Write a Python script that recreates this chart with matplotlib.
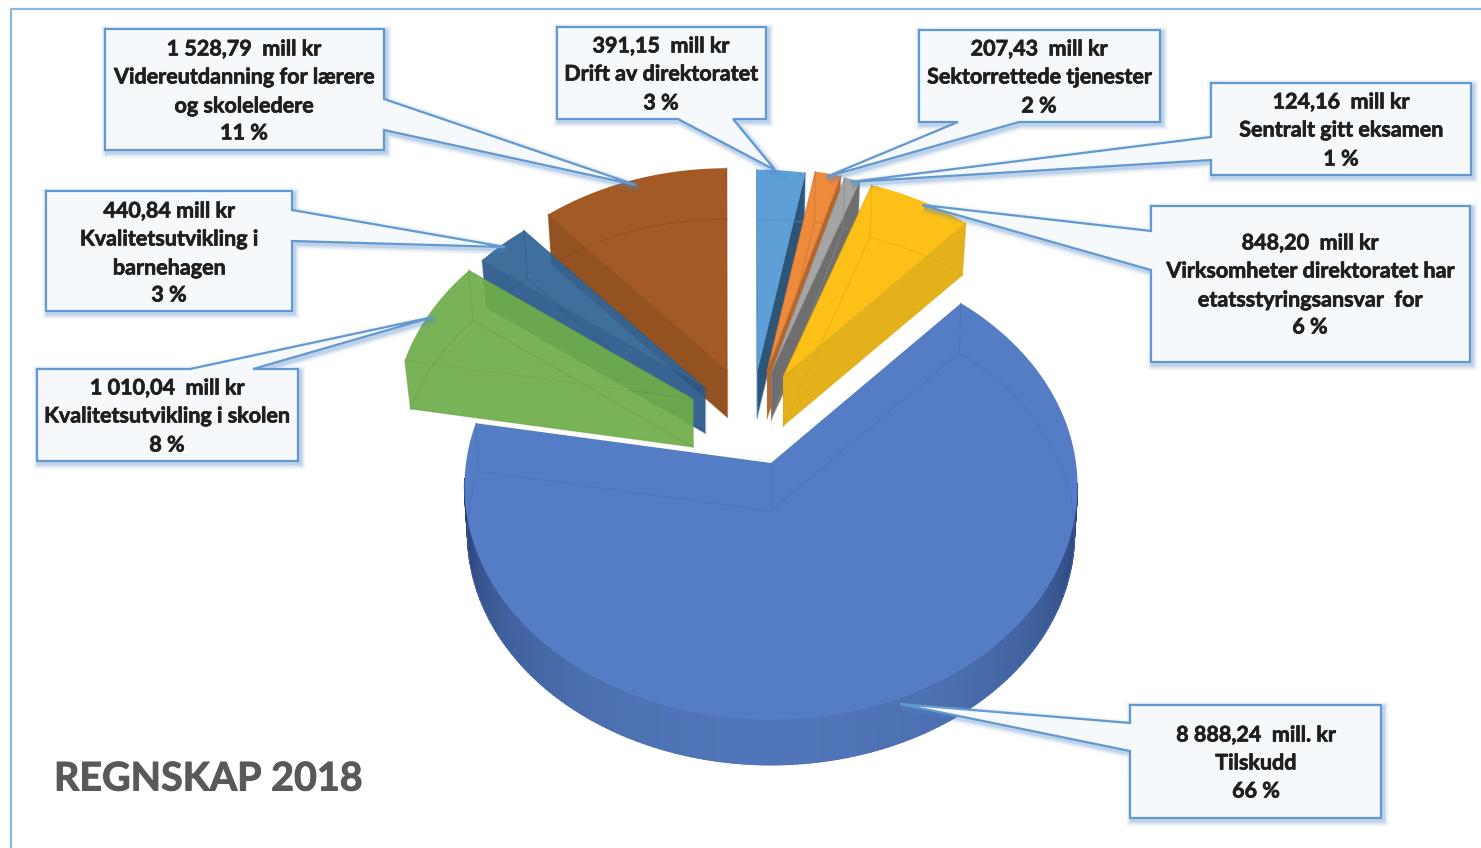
import numpy as np
import matplotlib
matplotlib.use("Agg")
import matplotlib.pyplot as plt
import matplotlib.patheffects as pe

# data, in pie order (clockwise, starting from the big slice)
names = ["Tilskudd", "Kvalitetsutvikling i skolen", "Kvalitetsutvikling i barnehagen",
         "Videreutdanning for lærere og skoleledere", "Drift av direktoratet",
         "Sektorrettede tjenester", "Sentralt gitt eksamen",
         "Virksomheter direktoratet har etatsstyringsansvar for"]
values = [8888.24, 1010.04, 440.84, 1528.79, 391.15, 207.43, 124.16, 848.20]

labels = ["8 888,24  mill. kr\nTilskudd\n66 %",
          "1 010,04  mill kr\nKvalitetsutvikling i skolen\n8 %",
          "440,84 mill kr\nKvalitetsutvikling i\nbarnehagen\n3 %",
          "1 528,79  mill kr\nVidereutdanning for lærere\nog skoleledere\n11 %",
          "391,15  mill kr\nDrift av direktoratet\n3 %",
          "207,43  mill kr\nSektorrettede tjenester\n2 %",
          "124,16  mill kr\nSentralt gitt eksamen\n1 %",
          "848,20  mill kr\nVirksomheter direktoratet har\netatsstyringsansvar  for\n6 %"]
title = "REGNSKAP 2018"

# look of the slices
top_cols = ["#547dc6", "#6fad4a", "#2f6496", "#a35a24", "#5f9fd8", "#ee8a3c", "#a5a5a5", "#fcc016"]
wall_cols = ["#4a6fb0", "#6fad4a", "#28588a", "#93521f", "#2c5578", "#b5642a", "#6e6e6e", "#e5b11a"]
line_cols = ["#4a70b5", "#659c45", "#2b5a88", "#8a4a1c", "#4f8cc2", "#c96f2c", "#8a8a8a", "#dba812"]
apex = [(771, 463), (693, 399), (705, 388), (727, 370), (757, 372), (767, 371), (771, 373), (783, 377)]
rad = [1.0, 0.976, 0.97, 0.957, 0.96, 0.96, 0.96, 0.96]
thick = [48, 48, 45, 47, 46, 47, 47, 49]
inner = [0.99, 0.98, 0.98, 0.98, 0.98, 0.98, 0.98, 0.98]
draw_order = [3, 2, 1, 4, 5, 6, 7, 0]

# callouts: box (x0, y0, x1, y1), pointer base points, pointer tip, text centre x
boxes = [(1130, 705, 1381, 818), (37, 369, 298, 461), (46, 191, 292, 311), (105, 29, 384, 150),
         (557, 27, 766, 119), (919, 30, 1160, 122), (1211, 83, 1471, 175), (1151, 206, 1470, 362)]
bases = [((1130, 723), (1130, 751)), ((190, 369), (253, 369)), ((292, 210), (292, 241)),
         ((384, 99), (384, 130)), ((678, 119), (733, 119)), ((958, 122), (1019, 122)),
         ((1211, 137), (1211, 160)), ((1151, 231), (1151, 270))]
tips = [(900, 704), (433, 317), (505, 247), (636, 185), (775, 170), (826, 177), (850, 182), (922, 205)]
text_x = [1256, 167, 169, 244, 661, 1039, 1341, 1310]

START = 42.0
A, B, K = 305.0, 231.0, 0.1


def project(theta, r=1.0):
    # theta in degrees clockwise from north, result is a pixel offset from the apex
    t = np.radians(theta)
    u = r * np.sin(t)
    v = r * np.cos(t)
    return A * u / (1 + K * v), -B * v / (1 + K * v)


fig = plt.figure(figsize=(14.81, 8.48), dpi=100)
ax = fig.add_axes([0, 0, 1, 1])
ax.set_xlim(0, 1481)
ax.set_ylim(848, 0)
ax.axis("off")

# frame of the pasted picture
ax.plot([11, 11, 1481], [848, 9, 9], color="#8db8e0", lw=1.6, zorder=1)

shares = np.array(values) / sum(values) * 360
ends = START + np.cumsum(shares)
starts = ends - shares


def draw_slice(i, z):
    a0, a1 = starts[i], ends[i]
    ax0, ay0 = apex[i]
    th = np.linspace(a0, a1, 200)
    x, y = project(th, rad[i])
    x = x + ax0
    y = y + ay0
    # bottom face sits a bit further in
    xb, yb = project(th, rad[i] * inner[i])
    xb = xb + ax0
    yb = yb + ay0 + thick[i]
    bx0, by0 = ax0, ay0 + thick[i]
    mid = (a0 + a1) / 2 % 360
    alpha = 0.93 if i in (1, 2) else 1

    if i == 0:
        # only the front rim shows on the big slice
        cols = np.linspace(95, 265, 170)
        for c in cols:
            tt = np.linspace(c, c + 1.2, 3)
            px, py = project(tt, rad[i])
            qx, qy = project(tt, rad[i] * inner[i])
            edge = abs(c - 180) / 85
            shade = np.array([0x50, 0x75, 0xb8]) * (1 - edge ** 2.2) + np.array([0x26, 0x3d, 0x70]) * edge ** 2.2
            col = shade / 255
            ax.fill(np.r_[px + ax0, (qx + ax0)[::-1]], np.r_[py + ay0, (qy + by0)[::-1]],
                    color=col, lw=0.8, zorder=z)
    elif mid > 180:
        wx, wy = x[0], y[0]
        ax.fill([wx, ax0, bx0, xb[0]], [wy, ay0, by0, yb[0]], color=wall_cols[i], alpha=alpha, lw=0, zorder=z)
    else:
        wx, wy = x[-1], y[-1]
        ax.fill([wx, ax0, bx0, xb[-1]], [wy, ay0, by0, yb[-1]], color=wall_cols[i], alpha=alpha, lw=0, zorder=z)

    ax.fill(np.r_[ax0, x], np.r_[ay0, y], color=top_cols[i], alpha=alpha, lw=0, zorder=z + 0.1)

    # faint edges of the lower face and corners, seen through the slice
    lc = line_cols[i]
    al = 0.5
    ax.plot(xb, yb, color=lc, lw=0.9, alpha=al, zorder=z + 0.2)
    ax.plot([xb[0], bx0, xb[-1]], [yb[0], by0, yb[-1]], color=lc, lw=0.9, alpha=al, zorder=z + 0.2)
    ax.plot([x[0], xb[0]], [y[0], yb[0]], color=lc, lw=0.9, alpha=al, zorder=z + 0.2)
    ax.plot([x[-1], xb[-1]], [y[-1], yb[-1]], color=lc, lw=0.9, alpha=al, zorder=z + 0.2)
    ax.plot([ax0, bx0], [ay0, by0], color=lc, lw=0.9, alpha=al, zorder=z + 0.2)
    if i != 0:
        ax.plot([x[0], ax0, x[-1]], [y[0], ay0, y[-1]], color=lc, lw=0.8, alpha=0.6, zorder=z + 0.2)


for n, i in enumerate(draw_order):
    draw_slice(i, 2 + n)


def callout_points(box, base, tip):
    x0, y0, x1, y1 = box
    p0, p1 = base
    if p0[1] == y0:      # pointer leaves the top side
        return [(x0, y0), p0, tip, p1, (x1, y0), (x1, y1), (x0, y1)]
    if p0[1] == y1:      # bottom side
        return [(x0, y0), (x1, y0), (x1, y1), p1, tip, p0, (x0, y1)]
    if p0[0] == x1:      # right side
        return [(x0, y0), (x1, y0), p0, tip, p1, (x1, y1), (x0, y1)]
    return [(x0, y0), (x1, y0), (x1, y1), (x0, y1), p1, tip, p0]


for i in range(len(labels)):
    pts = callout_points(boxes[i], bases[i], tips[i])
    xs = [p[0] for p in pts] + [pts[0][0]]
    ys = [p[1] for p in pts] + [pts[0][1]]
    # soft shadow
    for lw, al in [(8, 0.07), (5.5, 0.12), (3, 0.22)]:
        ax.plot(np.array(xs) + 2, np.array(ys) + 2.5, color="#4f86c6", lw=lw, alpha=al, zorder=20,
                solid_joinstyle="miter")
    ax.fill(xs, ys, color="#f6f9fc", lw=0, zorder=21)
    ax.plot(xs, ys, color="#6399cf", lw=1.6, zorder=22, solid_joinstyle="miter")

    n_lines = labels[i].count("\n") + 1
    y0, y1 = boxes[i][1], boxes[i][3]
    line_y = {3: [y0 + 19, y0 + 47, y0 + 76], 4: [y0 + 20, y0 + 48, y0 + 77, y0 + 104]}[n_lines]
    if i == 7:
        line_y = [243, 271, 300, 327]
    if i == 0:
        line_y = [735, 763, 791]
    for txt, ty in zip(labels[i].split("\n"), line_y):
        ax.text(text_x[i], ty, txt, ha="center", va="center", family="Lato", weight="bold",
                fontsize=15.5, color="#1f1f1f", zorder=23,
                path_effects=[pe.withStroke(linewidth=0.5, foreground="#1f1f1f")])

ax.text(54, 779, title, ha="left", va="center", family="Lato", weight="bold",
        fontsize=28.4, color="#595959", zorder=23,
        path_effects=[pe.withStroke(linewidth=0.7, foreground="#595959")])

fig.savefig("out.png", dpi=100, facecolor="white")
